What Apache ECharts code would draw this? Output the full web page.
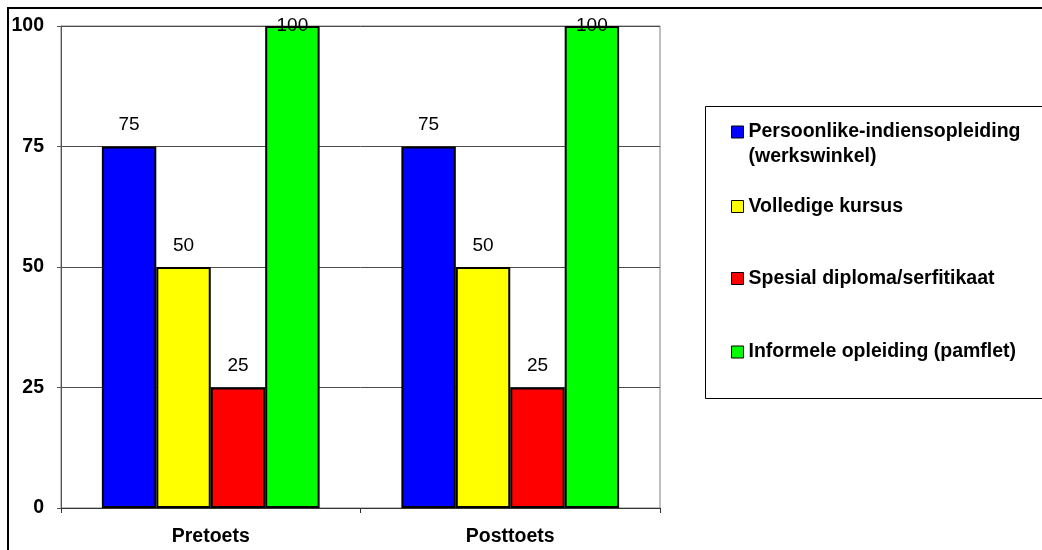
<!DOCTYPE html>
<html>
<head>
<meta charset="utf-8">
<script src="https://cdn.jsdelivr.net/npm/echarts@6/dist/echarts.min.js"></script>
<style>
html,body{margin:0;padding:0;background:#fff;}
#c{width:1042px;height:550px;}
</style>
</head>
<body>
<div id="c"></div>
<script>
var categories = ['Pretoets', 'Posttoets'];
var seriesNames = ['Persoonlike-indiensopleiding (werkswinkel)', 'Volledige kursus', 'Spesial diploma/serfitikaat', 'Informele opleiding (pamflet)'];
var persoonlike = [75, 75];
var volledige = [50, 50];
var spesial = [25, 25];
var informele = [100, 100];
var yTicks = [0, 25, 50, 75, 100];

var colors = ['#0000FF', '#FFFF00', '#FF0000', '#00FF00'];
var FONT = 'Liberation Sans, Arial, sans-serif';
var FS = 19.5;
var yMax = yTicks[yTicks.length - 1];
var values = [persoonlike, volledige, spesial, informele];

var chart = echarts.init(document.getElementById('c'), null, {renderer: 'canvas'});

function makeData(arr) {
  return arr.map(function (v) {
    var item = {value: v};
    if (v >= yMax) {
      item.label = {distance: -9};
    }
    return item;
  });
}

var series = values.map(function (arr, i) {
  return {
    name: seriesNames[i],
    type: 'bar',
    data: makeData(arr),
    barGap: '0%',
    barCategoryGap: '27.3%',
    itemStyle: {color: colors[i], borderColor: '#000', borderWidth: 2},
    label: {
      show: true, position: 'top', distance: 12,
      color: '#000', fontFamily: FONT, fontSize: 19, fontWeight: 'normal'
    },
    emphasis: {disabled: true},
    animation: false
  };
});

var legendCenters = [132, 206.5, 278.5, 352];
var legends = seriesNames.map(function (n, i) {
  var lines = (i === 0) ? 3 : 1;
  return {
    orient: 'vertical',
    left: 731,
    top: legendCenters[i] - lines * 25 / 2,
    padding: 0,
    itemWidth: 12,
    itemHeight: 12,
    itemGap: 0,
    icon: 'rect',
    data: [n],
    selectedMode: false,
    formatter: function (name) {
      if (name === seriesNames[0]) {
        return '\nPersoonlike-indiensopleiding\n(werkswinkel)';
      }
      return name;
    },
    itemStyle: {borderColor: '#000', borderWidth: 1},
    textStyle: {fontFamily: FONT, fontSize: FS, fontWeight: 'bold', color: '#000', lineHeight: 25}
  };
});

chart.setOption({
  animation: false,
  backgroundColor: '#fff',
  grid: {left: 61, top: 26, width: 599, height: 482, show: true, borderColor: '#808080', borderWidth: 1, containLabel: false},
  legend: legends,
  xAxis: {
    type: 'category',
    data: categories,
    boundaryGap: true,
    axisLine: {show: true, lineStyle: {color: '#333', width: 1}},
    axisTick: {show: true, length: 5, lineStyle: {color: '#333'}},
    axisLabel: {fontFamily: FONT, fontSize: FS, fontWeight: 'bold', color: '#000', margin: 19},
    splitLine: {show: false}
  },
  yAxis: {
    type: 'value',
    min: 0, max: yMax, interval: 25,
    axisLine: {show: true, lineStyle: {color: '#555', width: 1}},
    axisTick: {show: true, length: 4, inside: false, lineStyle: {color: '#555'}},
    axisLabel: {
      fontFamily: FONT, fontSize: FS, fontWeight: 'bold', color: '#000', margin: 17,
      formatter: function (v) { return yTicks.indexOf(v) >= 0 ? String(v) : ''; }
    },
    splitLine: {show: true, lineStyle: {color: '#4d4d4d', width: 1}}
  },
  graphic: [
    {type: 'rect', silent: true, z: 100,
     shape: {x: 8, y: 8, width: 1100, height: 600},
     style: {fill: 'none', stroke: '#000', lineWidth: 2}},
    {type: 'rect', silent: true, z: -1,
     shape: {x: 705.5, y: 106.5, width: 400, height: 292},
     style: {fill: 'none', stroke: '#000', lineWidth: 1}}
  ],
  series: series
});
</script>
</body>
</html>
